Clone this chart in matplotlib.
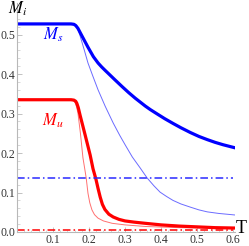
import numpy as np
import matplotlib.pyplot as plt

plt.rcParams['font.family'] = 'Liberation Serif'
plt.rcParams['mathtext.fontset'] = 'stix'

# values
T_ms = [0.0, 0.10, 0.150, 0.158, 0.163, 0.169, 0.180, 0.197, 0.212, 0.225, 0.235, 0.245,
        0.253, 0.270, 0.292, 0.310, 0.328, 0.342, 0.356, 0.370, 0.389, 0.410, 0.433, 0.455,
        0.481, 0.505, 0.528, 0.550, 0.572, 0.606]
Ms_thick = [0.527, 0.527, 0.527, 0.526, 0.523, 0.516, 0.497, 0.468, 0.444, 0.428, 0.418, 0.409,
            0.402, 0.387, 0.368, 0.353, 0.339, 0.329, 0.319, 0.310, 0.299, 0.287, 0.275, 0.264,
            0.252, 0.242, 0.234, 0.227, 0.221, 0.213]

T_ms_thin = [0.0, 0.10, 0.150, 0.160, 0.166, 0.175, 0.187, 0.197, 0.210, 0.225, 0.245, 0.267,
             0.285, 0.300, 0.320, 0.342, 0.361, 0.380, 0.397, 0.415, 0.433, 0.455, 0.481, 0.505,
             0.528, 0.560, 0.606]
Ms_thin = [0.527, 0.527, 0.527, 0.526, 0.522, 0.497, 0.460, 0.428, 0.396, 0.360, 0.318, 0.276,
           0.245, 0.221, 0.190, 0.162, 0.137, 0.117, 0.101, 0.090, 0.080, 0.071, 0.063, 0.056,
           0.051, 0.047, 0.043]

T_mu = [0.0, 0.10, 0.150, 0.158, 0.163, 0.166, 0.170, 0.175, 0.189, 0.203, 0.211, 0.219,
        0.225, 0.231, 0.237, 0.244, 0.255, 0.267, 0.283, 0.300, 0.325, 0.356, 0.400, 0.450,
        0.500, 0.550, 0.606]
Mu_thick = [0.335, 0.335, 0.335, 0.334, 0.331, 0.326, 0.315, 0.296, 0.246, 0.195, 0.160, 0.134,
            0.110, 0.088, 0.070, 0.057, 0.045, 0.038, 0.032, 0.028, 0.025, 0.022, 0.018, 0.015,
            0.013, 0.011, 0.010]

T_mu_thin = [0.0, 0.10, 0.150, 0.157, 0.161, 0.165, 0.169, 0.176, 0.183, 0.188, 0.192, 0.197,
             0.202, 0.208, 0.215, 0.225, 0.240, 0.264, 0.300, 0.356, 0.450, 0.606]
Mu_thin = [0.335, 0.335, 0.335, 0.333, 0.328, 0.318, 0.302, 0.250, 0.188, 0.160, 0.137, 0.098,
           0.074, 0.056, 0.044, 0.035, 0.028, 0.022, 0.018, 0.014, 0.011, 0.009]

Ms_const = 0.137
Mu_const = 0.004

fig = plt.figure(figsize=(2.49, 2.46), dpi=100)
ax = fig.add_axes([17 / 249, 14 / 246, 218 / 249, 229 / 246])

ax.plot(T_ms_thin, Ms_thin, color='#6b6bff', lw=0.7)
ax.plot(T_mu_thin, Mu_thin, color='#ff7070', lw=0.7)
ax.plot(T_ms, Ms_thick, color='#0000ff', lw=2.3, solid_capstyle='butt', solid_joinstyle='round')
ax.plot(T_mu, Mu_thick, color='#ff0000', lw=2.3, solid_capstyle='butt', solid_joinstyle='round')
ax.plot([0, 0.6], [Ms_const, Ms_const], color='#2a2aff', lw=1.1, dashes=[5, 2, 1, 2])
ax.plot([0, 0.6], [Mu_const, Mu_const], color='#ff0000', lw=1.1, dashes=[5, 2, 1, 2],
        clip_on=False)

ax.set_xlim(0, 0.605)
ax.set_ylim(0, 0.58)
ax.set_xticks([0.1, 0.2, 0.3, 0.4, 0.5, 0.6])
ax.set_xticklabels(['0.1', '0.2', '0.3', '0.4', '0.5', '0.6'])
ax.set_yticks([0.0, 0.1, 0.2, 0.3, 0.4, 0.5])
ax.set_yticklabels(['0.0', '0.1', '0.2', '0.3', '0.4', '0.5'])
ax.set_xticks(np.arange(0.02, 0.6, 0.02), minor=True)
ax.set_yticks(np.arange(0.02, 0.56, 0.02), minor=True)

for s in ['top', 'right']:
    ax.spines[s].set_visible(False)
for s in ['left', 'bottom']:
    ax.spines[s].set_color('#b8b8b8')
    ax.spines[s].set_linewidth(0.8)
ax.tick_params(which='major', direction='in', length=3.5, width=0.6, color='#b8b8b8',
               labelsize=8.5, labelcolor='#333333', pad=1.5)
ax.tick_params(which='minor', direction='in', length=1.8, width=0.5, color='#c8c8c8')

ax.text(-0.025, 0.565, r'$M_i$', fontsize=12, ha='left', va='center')
ax.text(0.100, 0.500, r'$M_s$', fontsize=12, color='#0000ff', ha='center', va='center')
ax.text(0.100, 0.281, r'$M_u$', fontsize=12, color='#ff0000', ha='center', va='center')
ax.text(0.607, 0.008, 'T', fontsize=13, ha='left', va='center', clip_on=False)

fig.savefig('out.png', dpi=100)
